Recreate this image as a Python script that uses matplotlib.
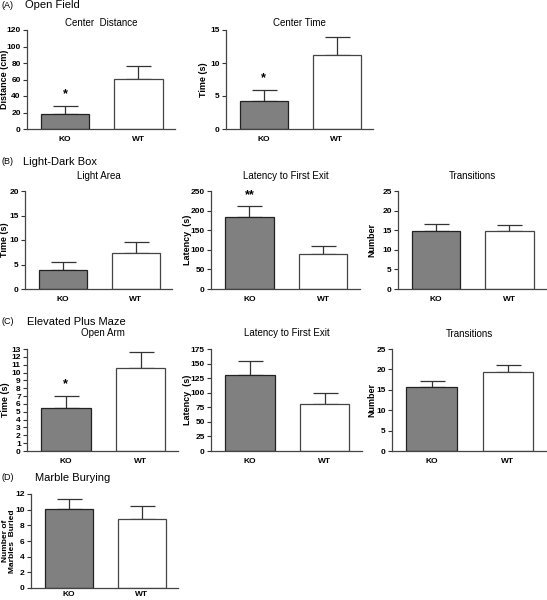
import matplotlib
matplotlib.use("Agg")
import matplotlib.pyplot as plt

plt.rcParams['font.family'] = ['Liberation Sans', 'DejaVu Sans']

groups = ["KO", "WT"]

# (A) Open Field
center_distance = [18.5, 61.0]
center_distance_err = [9.5, 15.0]
center_time = [4.2, 11.2]
center_time_err = [1.7, 2.7]

# (B) Light-Dark Box
ld_light_area = [3.9, 7.4]
ld_light_area_err = [1.6, 2.2]
ld_latency = [184.0, 90.0]
ld_latency_err = [27.0, 20.0]
ld_transitions = [14.7, 14.7]
ld_transitions_err = [1.8, 1.6]

# (C) Elevated Plus Maze
epm_open_arm = [5.5, 10.6]
epm_open_arm_err = [1.5, 2.0]
epm_latency = [130.0, 80.0]
epm_latency_err = [24.0, 20.0]
epm_transitions = [15.7, 19.3]
epm_transitions_err = [1.4, 1.7]

# (D) Marble Burying
marbles = [10.1, 8.8]
marbles_err = [1.3, 1.7]

W, H = 547, 600
fig = plt.figure(figsize=(W / 100, H / 100), dpi=100)

def px_axes(left, right, top, bottom):
    return fig.add_axes([left / W, 1 - bottom / H, (right - left) / W, (bottom - top) / H])

def ftext(x, y, s, **kw):
    fig.text(x / W, 1 - y / H, s, **kw)

def panel(rect, vals, errs, ymax, ystep, ylabel, title, title_y, label_off,
          stars=None, xpad=5, lab_fs=6.5):
    left, right, top, bottom = rect
    ax = px_axes(left, right, top, bottom)
    xs = [0, 1]
    ax.bar(xs, vals, width=0.66, color=["#808080", "white"],
           edgecolor=["#222222", "#444444"], linewidth=0.9, zorder=2)
    ax.errorbar(xs, vals, yerr=[[0, 0], errs], fmt="none", ecolor="#333333",
                elinewidth=0.9, capsize=9, capthick=0.9, zorder=1)
    ax.set_xlim(-0.52, 1.5)
    ax.set_ylim(0, ymax)
    ticks = []
    t = 0
    while t <= ymax + 1e-9:
        ticks.append(t)
        t += ystep
    ax.set_yticks(ticks)
    ax.set_yticklabels([("%g" % v) for v in ticks], fontsize=6, fontweight="bold")
    ax.set_xticks(xs)
    ax.set_xticklabels(groups, fontsize=6, fontweight="bold")
    ax.tick_params(axis="x", length=0, pad=xpad)
    ax.tick_params(axis="y", length=3, width=0.8, pad=1.5, colors="#333333", labelcolor="black")
    for s in ("top", "right"):
        ax.spines[s].set_visible(False)
    for s in ("left", "bottom"):
        ax.spines[s].set_linewidth(0.9)
        ax.spines[s].set_color("#444444")
    ax.set_ylabel(ylabel, fontsize=lab_fs, fontweight="bold", linespacing=0.95,
                  va="center", ha="center")
    ax.yaxis.set_label_coords(label_off / (right - left), 0.5)
    if title:
        ftext((left + right) / 2, title_y, title, ha="center", va="center", fontsize=7)
    if stars:
        for i, s in stars.items():
            ax.annotate(s, (xs[i], vals[i] + errs[i]), xytext=(0, 4),
                        textcoords="offset points", ha="center", va="bottom",
                        fontsize=9, fontweight="bold")
    ax.patch.set_alpha(0)
    return ax

# Section labels
def section(y, letter, name, xname):
    ftext(2, y, letter, ha="left", va="center", fontsize=6.5)
    ftext(xname, y, name, ha="left", va="center", fontsize=8)

section(5, "(A)", "Open Field", 25)
section(162, "(B)", "Light-Dark Box", 23)
section(322, "(C)", "Elevated Plus Maze", 27)
section(478, "(D)", "Marble Burying", 35)

panel((27, 175, 30, 129), center_distance, center_distance_err, 120, 20,
      "Distance (cm)", "Center  Distance", 23, -22, stars={0: "*"})
panel((226, 373, 30, 129), center_time, center_time_err, 15, 5,
      "Time (s)", "Center Time", 23, -23, stars={0: "*"})

panel((25, 172, 191, 289), ld_light_area, ld_light_area_err, 20, 5,
      "Time (s)", "Light Area", 176, -20)
panel((211, 360, 191, 289), ld_latency, ld_latency_err, 250, 50,
      "Latency  (s)", "Latency to First Exit", 176, -24, stars={0: "**"})
panel((398, 546, 191, 289), ld_transitions, ld_transitions_err, 25, 5,
      "Number", "Transitions", 176, -26)

panel((27, 178, 349, 451), epm_open_arm, epm_open_arm_err, 13, 1,
      "Time (s)", "Open Arm", 333, -22, stars={0: "*"})
panel((211, 362, 349, 451), epm_latency, epm_latency_err, 175, 25,
      "Latency  (s)", "Latency to First Exit", 333, -24)
panel((392, 546, 349, 451), epm_transitions, epm_transitions_err, 25, 5,
      "Number", "Transitions", 334, -20)

panel((31, 178, 494, 588), marbles, marbles_err, 12, 2,
      "Number of\nMarbles  Buried", "", 0, -22, xpad=2, lab_fs=6)

fig.savefig("out.png", dpi=100)
